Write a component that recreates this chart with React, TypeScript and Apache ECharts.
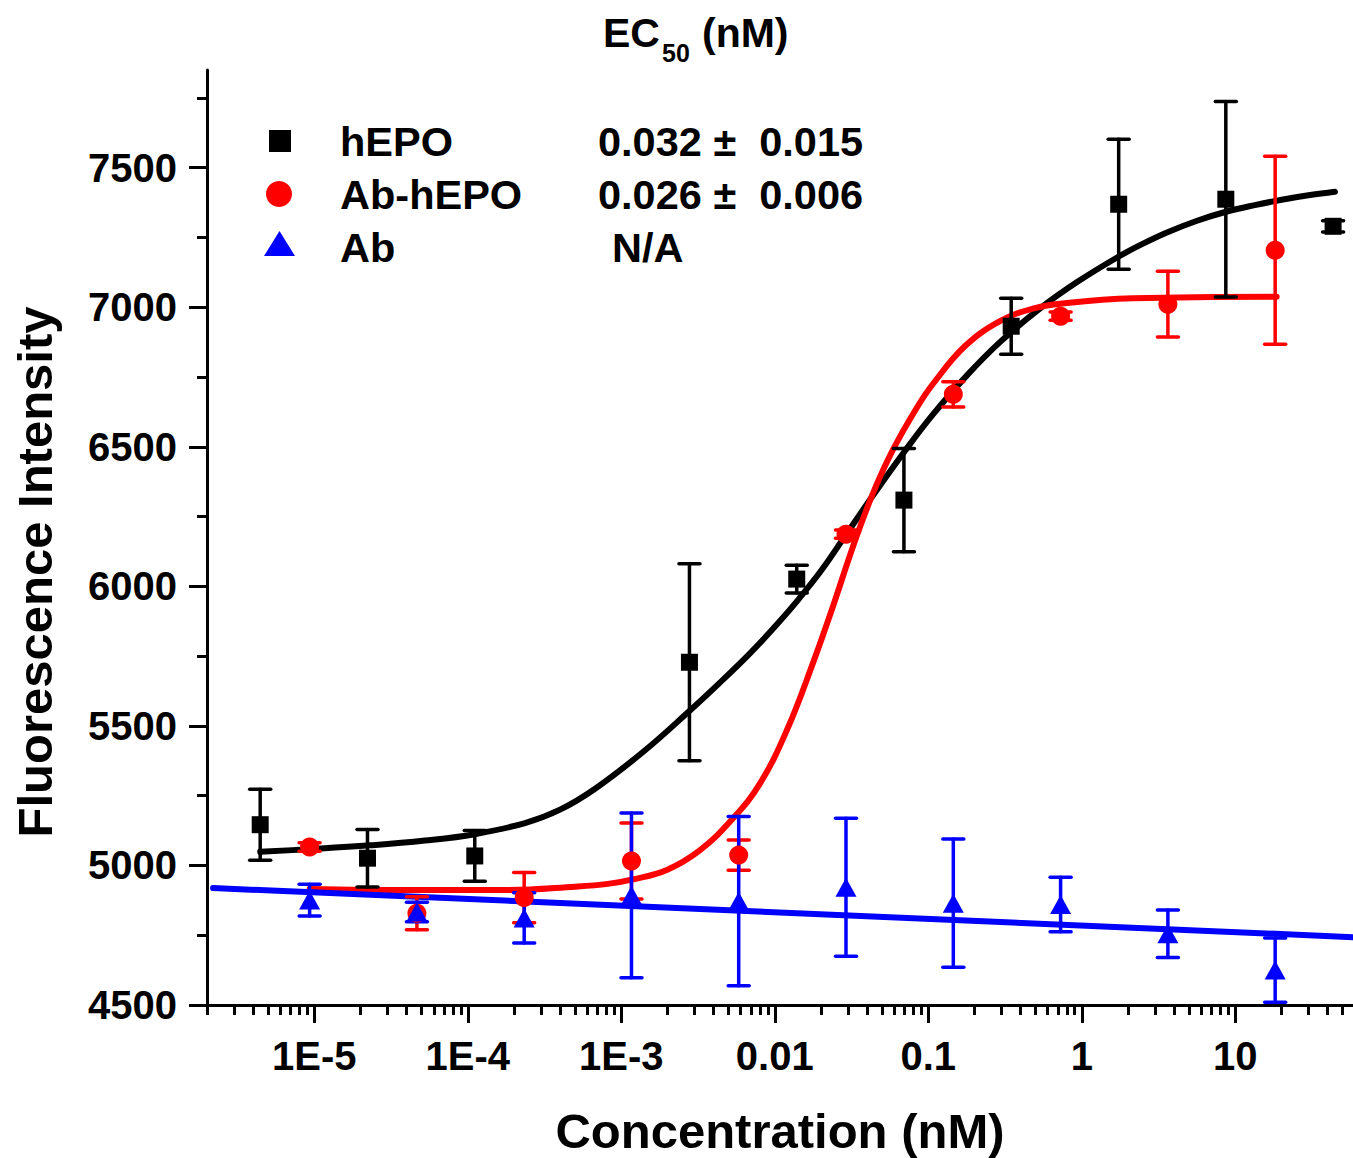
import React, { useEffect, useRef } from "react";
import * as echarts from "echarts";

// ---- data ----
const hepoConc = [4.44e-6, 2.22e-5, 1.11e-4, 2.78e-3, 0.0139, 0.0694, 0.347, 1.74, 8.68, 43.4];
const hepoValue = [5146, 5026, 5034, 5728, 6026, 6309, 6932, 7369, 7387, 7290];
const hepoErr = [127, 103, 91, 353, 50, 185, 100, 233, 350, 20];

const abConc = [9.32e-6, 4.66e-5, 2.33e-4, 1.165e-3, 5.82e-3, 0.0291, 0.1456, 0.728, 3.64, 18.2];
const abHepoValue = [5066, 4829, 4885, 5016, 5037, 6187, 6688, 6968, 7011, 7204];
const abHepoErr = [15, 59, 90, 136, 54, 15, 45, 15, 118, 337];
const abValue = [4876, 4833, 4812, 4893, 4872, 4922, 4865, 4860, 4755, 4625];
const abErr = [57, 35, 90, 295, 303, 247, 230, 98, 85, 115];

// fitted curves
const hepoFitConc = [4.44e-6, 9.09e-6, 2.31e-5, 5.26e-5, 1.11e-4, 2.36e-4, 3.99e-4, 6.75e-4, 1.41e-3, 2.8e-3, 4.39e-3, 6.89e-3, 1.0e-2, 1.41e-2, 2.03e-2, 2.95e-2, 4.62e-2, 7.04e-2, 0.107, 0.178, 0.293, 0.533, 0.932, 1.72, 2.51, 3.59, 5.64, 8.83, 13.4, 20.5, 30.7, 44.6];
const hepoFitValue = [5049, 5058, 5072, 5089, 5112, 5152, 5200, 5275, 5410, 5555, 5655, 5760, 5855, 5950, 6060, 6190, 6345, 6485, 6615, 6755, 6875, 6995, 7090, 7180, 7228, 7268, 7310, 7343, 7366, 7386, 7402, 7414];

const abHepoFitConc = [9.32e-6, 4.07e-5, 1.82e-4, 4.99e-4, 8.18e-4, 1.19e-3, 1.98e-3, 3.26e-3, 5.35e-3, 8.02e-3, 1.2e-2, 1.77e-2, 2.39e-2, 3.23e-2, 4.36e-2, 5.88e-2, 8.42e-2, 0.1072, 0.173, 0.293, 0.481, 0.799, 2.15, 18.6];
const abHepoFitValue = [4916, 4912, 4912, 4924, 4934, 4950, 4984, 5055, 5169, 5294, 5485, 5724, 5927, 6142, 6333, 6489, 6640, 6725, 6860, 6950, 6995, 7015, 7032, 7038];

const abFitConc = [2.19e-6, 58.5];
const abFitValue = [4919, 4743];

// ---- axes ----
const xMin = 1.999e-6;
const xMax = 58.5;
const xMajorTicks = [1e-5, 1e-4, 1e-3, 0.01, 0.1, 1, 10];
const xTickLabels = ["1E-5", "1E-4", "1E-3", "0.01", "0.1", "1", "10"];
const xMinorTicks: number[] = [];
for (let e = -6; e <= 1; e++) {
  for (let k = 2; k <= 9; k++) {
    const v = k * Math.pow(10, e);
    if (v >= xMin && v <= xMax) xMinorTicks.push(v);
  }
}
const yMin = 4500;
const yMax = 7850;
const yMajorTicks = [4500, 5000, 5500, 6000, 6500, 7000, 7500];
const yMinorTicks = [4750, 5250, 5750, 6250, 6750, 7250, 7750];

const FONT = '"Liberation Sans", Arial, sans-serif';
const BLACK = "#000000";
const RED = "#ff0000";
const BLUE = "#0000ff";

function zip3(a: number[], b: number[], c: number[]) {
  return a.map((v, i) => [v, b[i], c[i]]);
}
function zip2(a: number[], b: number[]) {
  return a.map((v, i) => [v, b[i]]);
}

function errorSeries(name: string, color: string, data: number[][]) {
  return {
    name: name + " err",
    type: "custom",
    z: 3,
    data,
    encode: { x: 0, y: 1 },
    renderItem: (params: any, api: any) => {
      const x = api.value(0);
      const y = api.value(1);
      const e = api.value(2);
      const top = api.coord([x, y + e]);
      const bot = api.coord([x, y - e]);
      const hw = 10.5;
      const style = { stroke: color, lineWidth: 3.5, lineCap: "round" };
      return {
        type: "group",
        children: [
          { type: "line", shape: { x1: top[0], y1: top[1], x2: bot[0], y2: bot[1] }, style },
          { type: "line", shape: { x1: top[0] - hw, y1: top[1], x2: top[0] + hw, y2: top[1] }, style },
          { type: "line", shape: { x1: bot[0] - hw, y1: bot[1], x2: bot[0] + hw, y2: bot[1] }, style },
        ],
      };
    },
  };
}

function txt(text: string, x: number, y: number, size: number, align = "left", rotation = 0) {
  return {
    type: "text",
    x,
    y,
    rotation,
    style: {
      text,
      fill: BLACK,
      fontSize: size,
      fontWeight: "bold",
      fontFamily: FONT,
      textAlign: align,
      textVerticalAlign: "middle",
    },
  };
}

function buildOption() {
  const axisLabelBase = {
    fontSize: 40,
    fontWeight: "bold",
    fontFamily: FONT,
    color: BLACK,
  };
  return {
    animation: false,
    backgroundColor: "#ffffff",
    grid: { left: 207, right: 0, top: 70, bottom: 153, containLabel: false, outerBoundsMode: "none" },
    xAxis: [
      {
        type: "log",
        min: xMin,
        max: xMax,
        position: "bottom",
        axisLine: { show: true, lineStyle: { color: BLACK, width: 3 } },
        axisTick: { show: true, customValues: xMajorTicks, length: 18, lineStyle: { color: BLACK, width: 3 } },
        axisLabel: {
          ...axisLabelBase,
          customValues: xMajorTicks,
          margin: 31,
          formatter: (v: number) => {
            for (let i = 0; i < xMajorTicks.length; i++) {
              if (Math.abs(Math.log10(v) - Math.log10(xMajorTicks[i])) < 1e-6) return xTickLabels[i];
            }
            return "";
          },
        },
        splitLine: { show: false },
        minorTick: { show: false },
      },
      {
        type: "log",
        min: xMin,
        max: xMax,
        position: "bottom",
        axisLine: { show: false },
        axisTick: { show: true, customValues: xMinorTicks, length: 10, lineStyle: { color: BLACK, width: 3 } },
        axisLabel: { show: false },
        splitLine: { show: false },
      },
    ],
    yAxis: [
      {
        type: "value",
        min: yMin,
        max: yMax,
        position: "left",
        axisLine: { show: true, lineStyle: { color: BLACK, width: 3 } },
        axisTick: { show: true, customValues: yMajorTicks, length: 18, lineStyle: { color: BLACK, width: 3 } },
        axisLabel: { ...axisLabelBase, customValues: yMajorTicks, margin: 30, formatter: (v: number) => String(v) },
        splitLine: { show: false },
      },
      {
        type: "value",
        min: yMin,
        max: yMax,
        position: "left",
        axisLine: { show: false },
        axisTick: { show: true, customValues: yMinorTicks, length: 10, lineStyle: { color: BLACK, width: 3 } },
        axisLabel: { show: false },
        splitLine: { show: false },
      },
    ],
    series: [
      {
        name: "hEPO fit",
        type: "line",
        z: 2,
        data: zip2(hepoFitConc, hepoFitValue),
        smooth: 0.4,
        showSymbol: false,
        lineStyle: { color: BLACK, width: 6, cap: "round", join: "round" },
        silent: true,
      },
      {
        name: "Ab-hEPO fit",
        type: "line",
        z: 2,
        data: zip2(abHepoFitConc, abHepoFitValue),
        smooth: 0.4,
        showSymbol: false,
        lineStyle: { color: RED, width: 6, cap: "round", join: "round" },
        silent: true,
      },
      {
        name: "Ab fit",
        type: "line",
        z: 2,
        data: zip2(abFitConc, abFitValue),
        showSymbol: false,
        lineStyle: { color: BLUE, width: 6, cap: "round" },
        silent: true,
      },
      errorSeries("hEPO", BLACK, zip3(hepoConc, hepoValue, hepoErr)),
      errorSeries("Ab-hEPO", RED, zip3(abConc, abHepoValue, abHepoErr)),
      errorSeries("Ab", BLUE, zip3(abConc, abValue, abErr)),
      {
        name: "hEPO",
        type: "scatter",
        z: 4,
        symbol: "rect",
        symbolSize: 17,
        itemStyle: { color: BLACK, opacity: 1 },
        data: zip2(hepoConc, hepoValue),
      },
      {
        name: "Ab-hEPO",
        type: "scatter",
        z: 4,
        symbol: "circle",
        symbolSize: 19,
        itemStyle: { color: RED, opacity: 1 },
        data: zip2(abConc, abHepoValue),
      },
      {
        name: "Ab",
        type: "scatter",
        z: 4,
        symbol: "triangle",
        symbolSize: [21, 19],
        itemStyle: { color: BLUE, opacity: 1 },
        data: zip2(abConc, abValue),
      },
    ],
    graphic: [
      // title
      txt("EC", 603, 33, 41),
      txt("50", 662, 53, 25),
      txt("(nM)", 702, 33, 41),
      // legend symbols
      { type: "rect", shape: { x: 269, y: 130, width: 22, height: 22 }, style: { fill: BLACK } },
      { type: "circle", shape: { cx: 279, cy: 194, r: 13 }, style: { fill: RED } },
      { type: "polygon", shape: { points: [[264, 256], [295, 256], [279.5, 231]] }, style: { fill: BLUE } },
      // legend texts
      txt("hEPO", 340, 141, 41.5),
      txt("Ab-hEPO", 340, 194, 41.5),
      txt("Ab", 340, 247, 41.5),
      txt("0.032 \u00b1  0.015", 598, 141, 41.5),
      txt("0.026 \u00b1  0.006", 598, 194, 41.5),
      txt("N/A", 612, 247, 41.5),
      // axis titles
      txt("Fluorescence Intensity", 35, 572, 49, "center", Math.PI / 2),
      txt("Concentration (nM)", 780, 1131, 49, "center"),
    ],
  };
}

export default function App() {
  const ref = useRef<HTMLDivElement>(null);
  useEffect(() => {
    if (!ref.current) return;
    const chart = echarts.init(ref.current, null, { renderer: "svg" });
    chart.setOption(buildOption() as any);
    return () => chart.dispose();
  }, []);
  return (
    <div
      ref={ref}
      style={{ position: "absolute", left: 0, top: 0, width: 1353, height: 1158, background: "#fff" }}
    />
  );
}
